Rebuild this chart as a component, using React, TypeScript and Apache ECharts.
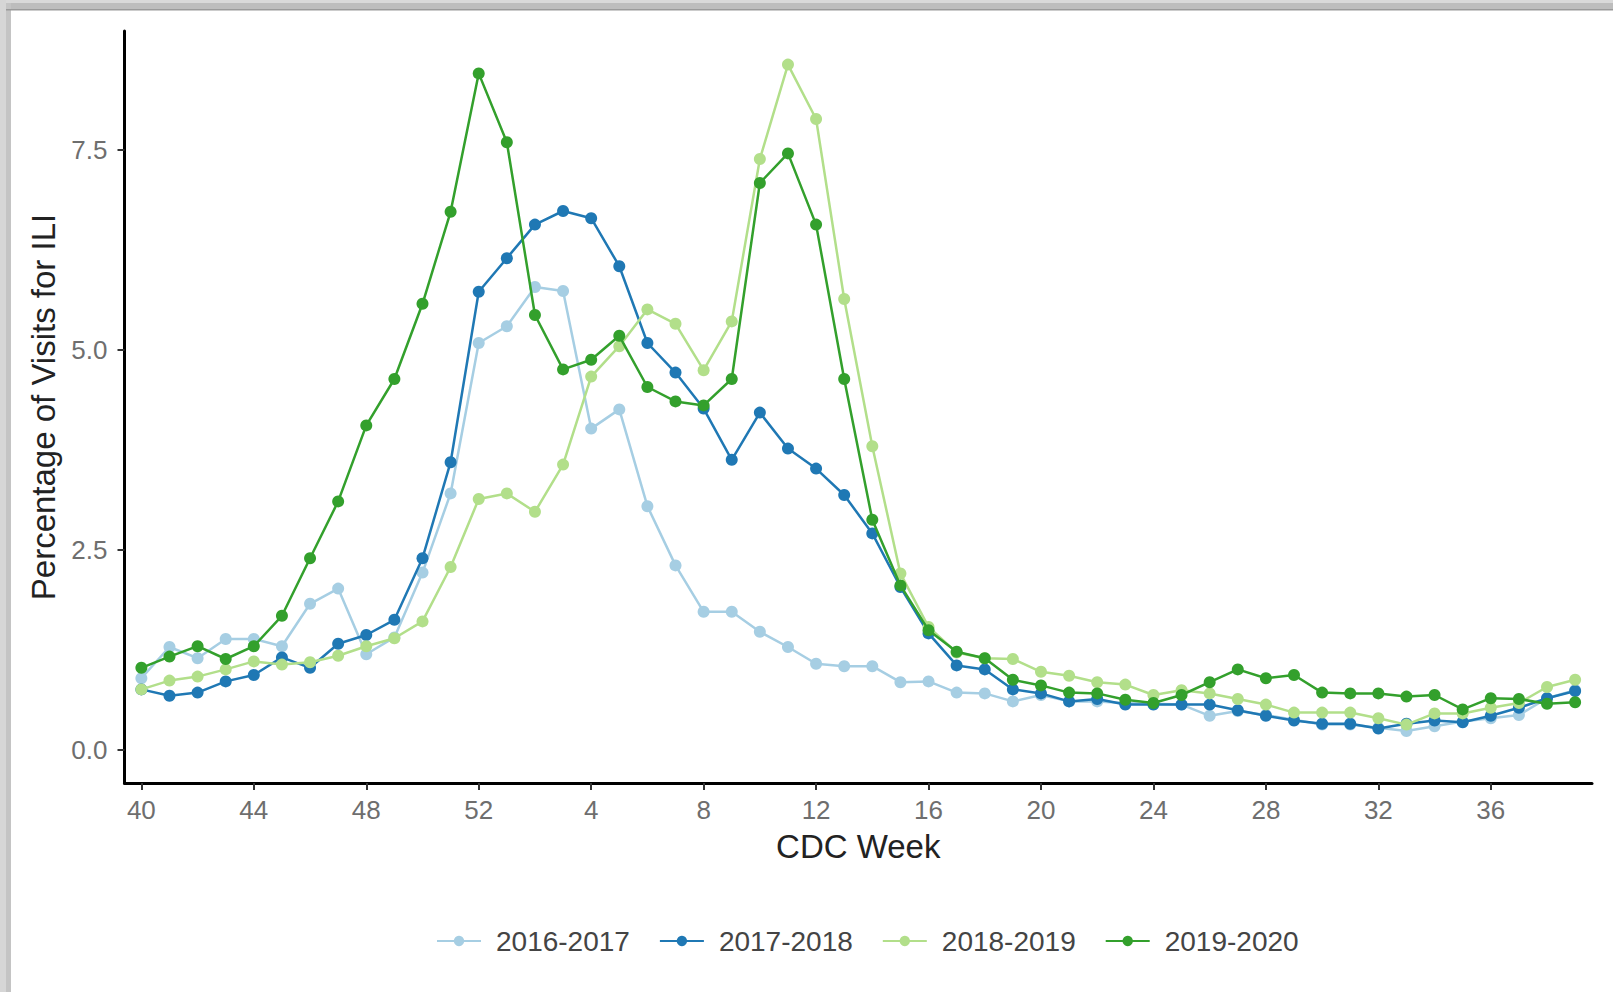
import React, { useEffect, useRef } from "react";
import * as echarts from "echarts";

const weeks = [
  40, 41, 42, 43, 44, 45, 46, 47, 48, 49, 50, 51, 52,
  1, 2, 3, 4, 5, 6, 7, 8, 9, 10, 11, 12, 13, 14, 15, 16,
  17, 18, 19, 20, 21, 22, 23, 24, 25, 26, 27, 28, 29, 30, 31, 32, 33, 34, 35, 36, 37, 38, 39,
];
const xTickIndices = [0, 4, 8, 12, 16, 20, 24, 28, 32, 36, 40, 44, 48];
const yTicks = [0, 2.5, 5, 7.5];

const seasons = ["2016-2017", "2017-2018", "2018-2019", "2019-2020"];
const seasonColors = ["#a6cee3", "#1f78b4", "#b2df8a", "#33a02c"];

const s1617 = [
  0.9, 1.29, 1.15, 1.39, 1.39, 1.3, 1.83, 2.02, 1.2, 1.41, 2.22, 3.21, 5.09,
  5.3, 5.79, 5.74, 4.02, 4.26, 3.05, 2.31, 1.73, 1.73, 1.48, 1.29, 1.08, 1.05, 1.05, 0.85, 0.86,
  0.72, 0.71, 0.61, 0.69, 0.61, 0.61, 0.59, 0.58, 0.57, 0.43, 0.49, 0.44, 0.38, 0.32, 0.32, 0.28, 0.24, 0.3, 0.36, 0.4, 0.44, 0.65, 0.75,
];
const s1718 = [
  0.76, 0.68, 0.72, 0.86, 0.94, 1.16, 1.03, 1.33, 1.44, 1.63, 2.4, 3.6, 5.73,
  6.15, 6.57, 6.74, 6.65, 6.05, 5.09, 4.72, 4.27, 3.63, 4.22, 3.77, 3.52, 3.19, 2.71, 2.04, 1.46,
  1.06, 1.01, 0.76, 0.71, 0.61, 0.64, 0.57, 0.57, 0.57, 0.57, 0.5, 0.43, 0.37, 0.33, 0.33, 0.27, 0.33, 0.37, 0.35, 0.43, 0.53, 0.65, 0.74,
];
const s1819 = [
  0.76, 0.87, 0.92, 1.01, 1.11, 1.07, 1.1, 1.18, 1.3, 1.4, 1.61, 2.29, 3.14,
  3.21, 2.98, 3.57, 4.67, 5.05, 5.51, 5.33, 4.75, 5.36, 7.39, 8.57, 7.89, 5.64, 3.8, 2.21, 1.54,
  1.22, 1.15, 1.14, 0.98, 0.93, 0.85, 0.82, 0.69, 0.75, 0.71, 0.64, 0.57, 0.47, 0.47, 0.47, 0.4, 0.32, 0.46, 0.46, 0.53, 0.59, 0.79, 0.88,
];
const s1920 = [
  1.03, 1.17, 1.3, 1.14, 1.3, 1.68, 2.4, 3.11, 4.06, 4.64, 5.58, 6.73, 8.46,
  7.6, 5.44, 4.76, 4.88, 5.18, 4.54, 4.36, 4.31, 4.64, 7.09, 7.46, 6.57, 4.64, 2.88, 2.06, 1.5,
  1.23, 1.15, 0.88, 0.81, 0.72, 0.71, 0.63, 0.59, 0.69, 0.85, 1.01, 0.9, 0.94, 0.72, 0.71, 0.71, 0.67, 0.69, 0.51, 0.65, 0.64, 0.58, 0.6,
];
const seriesValues = [s1617, s1718, s1819, s1920];

const FONT = "'Liberation Sans', Arial, Helvetica, sans-serif";

export default function App() {
  const ref = useRef<HTMLDivElement>(null);

  useEffect(() => {
    if (!ref.current) return;
    const chart = echarts.init(ref.current, undefined, { renderer: "svg" });
    const option: any = {
      animation: false,
      backgroundColor: "#ffffff",
      textStyle: { fontFamily: FONT },
      graphic: [
        { type: "rect", left: 0, top: 0, shape: { width: 1613, height: 10 }, style: { fill: "#bdbdbd" }, z: 100 },
        { type: "rect", left: 0, top: 0, shape: { width: 1613, height: 3 }, style: { fill: "#d9d9d9" }, z: 101 },
        { type: "rect", left: 0, top: 9, shape: { width: 1613, height: 1.5 }, style: { fill: "#9a9a9a" }, z: 101 },
        { type: "rect", left: 0, top: 0, shape: { width: 11, height: 992 }, style: { fill: "#c4c4c4" }, z: 100 },
        { type: "rect", left: 0, top: 0, shape: { width: 6, height: 992 }, style: { fill: "#d6d6d6" }, z: 101 },
      ],
      grid: { left: 124.5, right: 21, top: 31, bottom: 209, containLabel: false },
      legend: {
        data: seasons,
        left: 436,
        top: 927,
        padding: 0,
        orient: "horizontal",
        itemWidth: 44,
        itemHeight: 13,
        itemGap: 29,
        textStyle: { fontSize: 28, color: "#444", fontFamily: FONT, padding: [0, 0, 0, 10] },
      },
      xAxis: {
        type: "value",
        min: -0.6,
        max: 51.6,
        name: "CDC Week",
        nameLocation: "middle",
        nameGap: 47,
        nameTextStyle: { fontSize: 33, color: "#222", fontFamily: FONT },
        axisLine: { onZero: false, lineStyle: { color: "#000", width: 3 } },
        axisTick: { show: true, length: 7, customValues: xTickIndices, lineStyle: { color: "#333", width: 2 } },
        axisLabel: {
          customValues: xTickIndices,
          margin: 14,
          fontSize: 26,
          color: "#6e6e6e",
          fontFamily: FONT,
          formatter: (v: number) => String(weeks[Math.round(v)] ?? ""),
        },
        splitLine: { show: false },
      },
      yAxis: {
        type: "value",
        min: -0.41,
        max: 8.99,
        name: "Percentage of Visits for ILI",
        nameLocation: "middle",
        nameGap: 64,
        nameTextStyle: { fontSize: 33, color: "#222", fontFamily: FONT },
        axisLine: { show: true, onZero: false, lineStyle: { color: "#000", width: 3 } },
        axisTick: { show: true, length: 7, customValues: yTicks, lineStyle: { color: "#333", width: 2 } },
        axisLabel: {
          customValues: yTicks,
          margin: 17,
          fontSize: 26,
          color: "#6e6e6e",
          fontFamily: FONT,
          formatter: (v: number) => v.toFixed(1),
        },
        splitLine: { show: false },
      },
      series: seasons.map((name, si) => ({
        name,
        type: "line",
        data: seriesValues[si].map((v, i) => [i, v]),
        symbol: "circle",
        symbolSize: 12,
        lineStyle: { width: 2.5, color: seasonColors[si] },
        itemStyle: { color: seasonColors[si] },
        z: 2 + si,
      })),
    };
    chart.setOption(option);
    return () => chart.dispose();
  }, []);

  return (
    <div
      ref={ref}
      style={{ position: "absolute", left: 0, top: 0, width: 1613, height: 992, background: "#fff" }}
    />
  );
}
